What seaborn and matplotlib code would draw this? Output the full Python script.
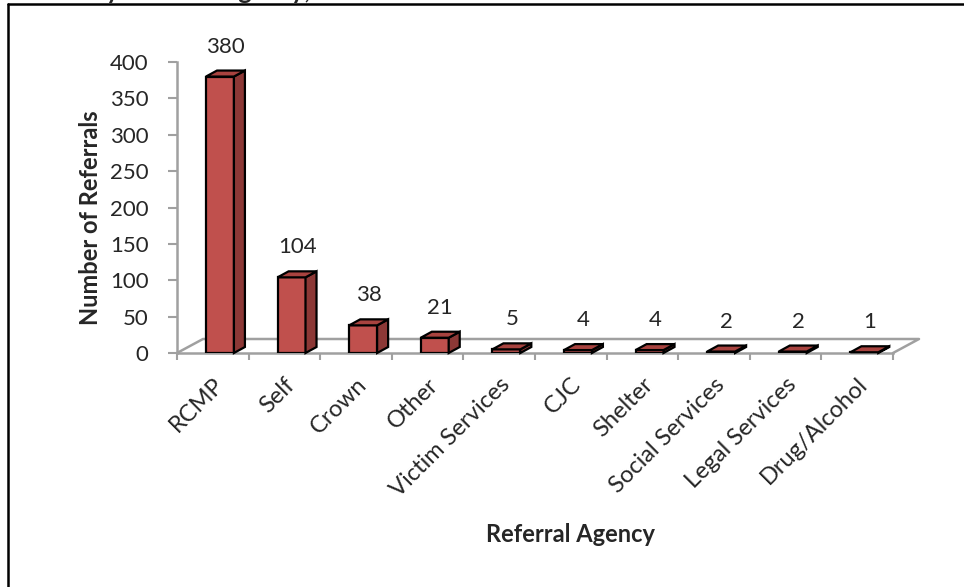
import pandas as pd
import seaborn as sns
import matplotlib.pyplot as plt
from matplotlib.patches import Polygon
from matplotlib.lines import Line2D

agencies = ["RCMP", "Self", "Crown", "Other", "Victim Services", "CJC",
            "Shelter", "Social Services", "Legal Services", "Drug/Alcohol"]
referrals = [380, 104, 38, 21, 5, 4, 4, 2, 2, 1]

front = "#C0504D"
side = "#8C3836"
top = "#A8433F"
grey = "#A0A0A0"

sns.set_style("white")
plt.rcParams['font.family'] = ['Lato', 'DejaVu Sans']

df = pd.DataFrame({"Agency": agencies, "Referrals": referrals})

fig = plt.figure(figsize=(9.64, 5.87), dpi=100)
ax = fig.add_axes([177 / 964, 1 - 353 / 587, 716 / 964, 291 / 587])

sns.barplot(data=df, x="Agency", y="Referrals", color=front, width=0.39,
            saturation=1, edgecolor="black", linewidth=1.6, ax=ax, zorder=3)

ax.set_xlim(-0.5, 9.5)
ax.set_ylim(0, 400)

# fake 3d depth (bars + floor), in data units
ddx, ddy = 11 / 71.6, 6 * 400 / 291
fdx, fdy = 26 / 71.6, 14 * 400 / 291

floor = [(-0.5, 0), (-0.5 + fdx, fdy), (9.5 + fdx, fdy), (9.5, 0)]
ax.add_line(Line2D([p[0] for p in floor], [p[1] for p in floor], color=grey,
                   lw=1.8, zorder=1, clip_on=False))

for p in ax.patches[:len(referrals)]:
    p.set_x(p.get_x() + 0.1)
    x, w, h = p.get_x(), p.get_width(), p.get_height()
    ax.add_patch(Polygon([(x + w, 0), (x + w + ddx, ddy), (x + w + ddx, h + ddy), (x + w, h)],
                         closed=True, fc=side, ec="black", lw=1.6, zorder=3, clip_on=False))
    ax.add_patch(Polygon([(x, h), (x + w, h), (x + w + ddx, h + ddy), (x + ddx, h + ddy)],
                         closed=True, fc=top, ec="black", lw=1.6, zorder=3, clip_on=False))
    ax.annotate(f"{int(h)}", (x + w / 2 + ddx / 2, h + ddy), xytext=(0, 24),
                textcoords="offset pixels", ha="center", va="center", fontsize=16)

sns.despine(ax=ax, top=True, right=True)
for s in ["left", "bottom"]:
    ax.spines[s].set_color(grey)
    ax.spines[s].set_linewidth(1.8)

ax.set_yticks(range(0, 401, 50))
ax.tick_params(axis="y", direction="out", length=6.5, width=1.5, color=grey,
               pad=14, labelsize=16, left=True)
ax.set_xticks(range(len(agencies)))
ax.set_xticklabels(agencies, rotation=45, ha="right", va="top", rotation_mode="anchor")
ax.set_xticks([i - 0.5 for i in range(len(agencies) + 1)], minor=True)
ax.tick_params(axis="x", which="major", length=0, pad=15, labelsize=17)
ax.tick_params(axis="x", which="minor", direction="out", length=5, width=1.5,
               color=grey, bottom=True)

ax.set_xlabel("Referral Agency", fontsize=17, fontweight="bold")
ax.xaxis.set_label_coords(0.549, -0.585)
ax.set_ylabel("Number of Referrals", fontsize=17, fontweight="bold")
ax.yaxis.set_label_coords(-0.105, 0.464)

# chart frame (top and left edges visible) and the cut-off title
fig.add_artist(Line2D([8 / 964, 1], [1 - 4 / 587] * 2, color="black", lw=1.8))
fig.add_artist(Line2D([8 / 964] * 2, [0, 1 - 4 / 587], color="black", lw=1.8))
fig.text(92 / 964, 1 + 1 / 587, "by Referral Agency,", fontsize=18,
         fontweight="bold", va="baseline", ha="left")

fig.savefig("out.png", dpi=100)
